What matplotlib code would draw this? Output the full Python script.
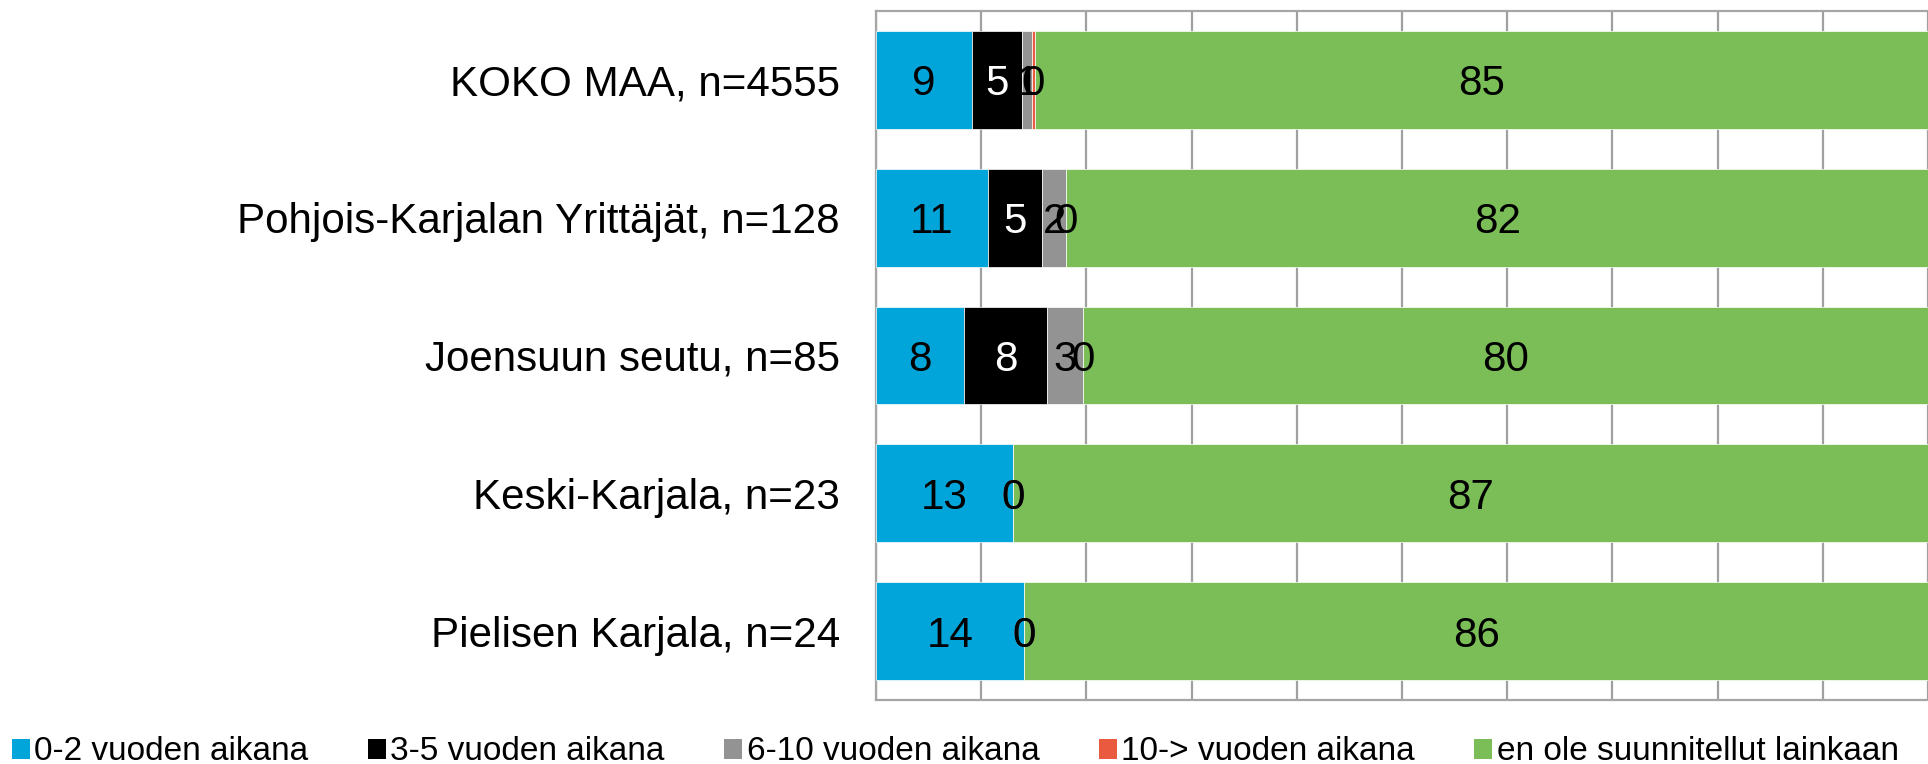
import numpy as np
import matplotlib
matplotlib.use("Agg")
import matplotlib.pyplot as plt
from matplotlib.patches import Patch

plt.rcParams['font.family'] = ['Liberation Sans', 'DejaVu Sans']

# ---- data (percent) ----
categories = ["KOKO MAA, n=4555", "Pohjois-Karjalan Yrittäjät, n=128",
              "Joensuun seutu, n=85", "Keski-Karjala, n=23", "Pielisen Karjala, n=24"]
series_names = ["0-2 vuoden aikana", "3-5 vuoden aikana", "6-10 vuoden aikana",
                "10-> vuoden aikana", "en ole suunnitellut lainkaan"]
v_0_2 = [9.1, 10.6, 8.4, 13.0, 14.1]
v_3_5 = [4.8, 5.2, 7.9, 0.0, 0.0]
v_6_10 = [0.9, 2.3, 3.4, 0.0, 0.0]
v_10_plus = [0.3, 0.0, 0.0, 0.0, 0.0]
v_never = [84.9, 81.9, 80.3, 87.0, 85.9]

colors = ["#02A5DA", "#000000", "#939393", "#E95A3F", "#7BBD56"]
label_colors = ["black", "white", "black", "black", "black"]

series = [v_0_2, v_3_5, v_6_10, v_10_plus, v_never]

fig = plt.figure(figsize=(19.28, 7.64), dpi=100)
ax = fig.add_axes([876 / 1928, 1 - 700 / 764, 1 - 876 / 1928, (700 - 11) / 764])

y = np.arange(len(categories))
left = np.zeros(len(categories))
for vals, col, lcol in zip(series, colors, label_colors):
    vals = np.array(vals)
    ax.barh(y, vals, left=left, height=0.71, color=col, edgecolor='white',
            linewidth=0.5, zorder=3)
    for yi, (l, v) in enumerate(zip(left, vals)):
        ax.text(l + v / 2, yi, f"{v:.0f}", ha='center', va='center_baseline',
                fontsize=30.3, color=lcol, zorder=4)
    left = left + vals

ax.set_xlim(0, (1928 - 876) / 10.69)
ax.set_ylim(len(categories) - 0.5, -0.5)
ax.set_xticks(np.arange(0, 101, 10))
ax.set_xticklabels([])
ax.set_yticks(y)
ax.set_yticklabels(categories, fontsize=30.3)
ax.tick_params(axis='both', length=0)
ax.tick_params(axis='y', pad=26)
ax.grid(axis='x', color='#A0A0A0', linewidth=1.6, zorder=0)
ax.set_axisbelow(True)
for side in ['left', 'top', 'bottom']:
    ax.spines[side].set_color('#A6A6A6')
    ax.spines[side].set_linewidth(1.6)
ax.spines['right'].set_visible(False)

handles = [Patch(facecolor=c, edgecolor='none') for c in colors]
fig.legend(handles, series_names, loc='center left', bbox_to_anchor=(0.006, 1 - 752 / 764),
           ncol=5, fontsize=24, frameon=False, handlelength=0.54, handleheight=0.54,
           handletextpad=0.14, columnspacing=1.78, borderaxespad=0, borderpad=0)

fig.savefig("out.png", dpi=100)
